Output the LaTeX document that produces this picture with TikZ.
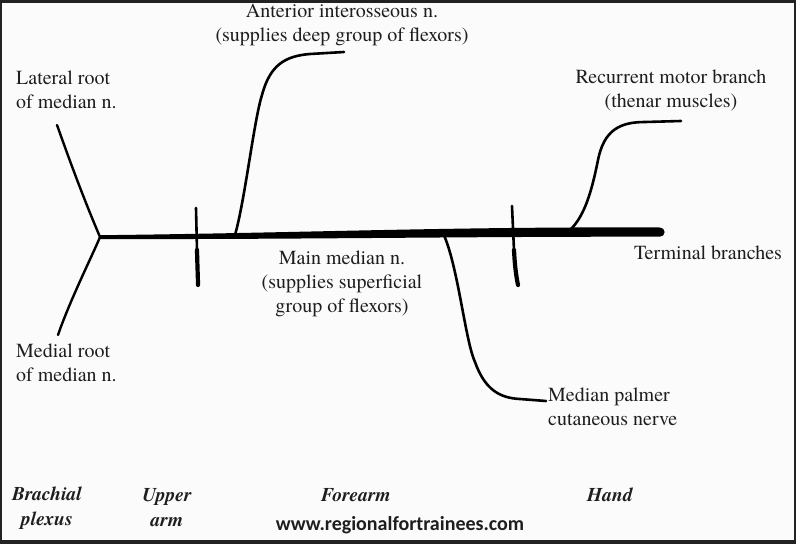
\documentclass[tikz,border=0pt]{standalone}
\usepackage{fontspec}
\newfontfamily\labelfont{texgyretermes}[Extension=.otf,
  UprightFont=*-regular, BoldFont=*-bold,
  ItalicFont=*-italic, BoldItalicFont=*-bolditalic]
\newfontfamily\webfont{Carlito}
\usepackage{tikz}
\usetikzlibrary{positioning}

\definecolor{inkgrey}{HTML}{1E1E1E}
\definecolor{framegrey}{HTML}{222222}
\definecolor{paper}{HTML}{FBFBFB}

\tikzset{
  textlabel/.style={inner sep=0pt, text=inkgrey, font=\labelfont\fontsize{20}{24}\selectfont},
  region/.style={inner sep=0pt, text=inkgrey, align=center,
    font=\labelfont\fontsize{19.5}{25}\selectfont\bfseries\itshape},
  nerve/.style={line width=2.6pt, line cap=round, line join=round},
  tick/.style={line width=3.6pt, line cap=round}
}

\begin{document}
\begin{tikzpicture}[x=1pt, y=-1pt]
    % frame and paper
    \fill[framegrey] (0,0) rectangle (796,544);
    \fill[paper] (2,3) rectangle (794,540);
    \useasboundingbox (0,0) rectangle (796,544);

    % points on the nerve
    \coordinate (plexus) at (100,237);
    \coordinate (latend) at (57,125);
    \coordinate (medend) at (58,335);
    \coordinate (aibase) at (235,235);
    \coordinate (aiend) at (344,52);
    \coordinate (mpbase) at (443,233);
    \coordinate (mpend) at (546,401);
    \coordinate (rmbase) at (571,229);
    \coordinate (rmend) at (681,121);

    % main median n. (thickens distally)
    \fill (100,235.2) .. controls (300,233) and (450,226.5) .. (660,227.5)
        arc[start angle=-90, end angle=90, radius=4.6]
        .. controls (450,236.5) and (300,239.5) .. (100,239) -- cycle;

    % roots
    \draw[nerve, line width=2.4pt] (latend) .. controls (66,150) and (80,190) .. (plexus);
    \draw[nerve, line width=2.4pt] (plexus) .. controls (94,252) and (70,300) .. (medend);

    % region ticks
    \draw[tick, line width=2.6pt] (196,208) -- (197,250);
    \draw[tick, line width=4.2pt] (197,250) .. controls (197.5,270) and (198,280) .. (198,285);
    \draw[tick, line width=2.6pt] (512,206) -- (514,250);
    \draw[tick, line width=4.2pt] (514,250) .. controls (515,270) and (517,280) .. (518,285);

    % branches
    \draw[nerve] (aibase) .. controls (245,200) and (254,120) .. (262,95)
        .. controls (270,65) and (285,56) .. (310,54) -- (aiend);
    \draw[nerve] (mpbase) .. controls (458,265) and (465,340) .. (475,362)
        .. controls (485,390) and (500,398) .. (520,399) -- (mpend);
    \draw[nerve] (rmbase) .. controls (585,215) and (592,190) .. (598,160)
        .. controls (604,130) and (620,122) .. (645,122) -- (rmend);

    % labels
    \node[textlabel, align=center] (ai) at (342,25)
        {Anterior interosseous n.\\(supplies deep group of flexors)};
    \node[textlabel, align=left, anchor=west] (lat) at (16,90)
        {Lateral root\\of median n.};
    \node[textlabel, align=center] (rm) at (671,90)
        {Recurrent motor branch\\(thenar muscles)};
    \node[textlabel, anchor=west] (term) at (634,253) {Terminal branches};
    \node[textlabel, align=center] (main) at (342,284)
        {Main median n.\\(supplies superficial\\group of flexors)};
    \node[textlabel, align=left, anchor=west] (med) at (16,363)
        {Medial root\\of median n.};
    \node[textlabel, align=left, anchor=west] (mp) at (548,407)
        {Median palmer\\cutaneous nerve};

    % regions
    \node[region] (brachial) at (47,508) {Brachial\\plexus};
    \node[region] (upper) at (167,508) {Upper\\arm};
    \node[region] (forearm) at (356,495) {Forearm};
    \node[region] (hand) at (610,495) {Hand};
    \node[inner sep=0pt, text=inkgrey, font=\webfont\fontsize{20}{22}\selectfont\bfseries]
        (web) at (400,525) {www.regionalfortrainees.com};
\end{tikzpicture}
\end{document}
